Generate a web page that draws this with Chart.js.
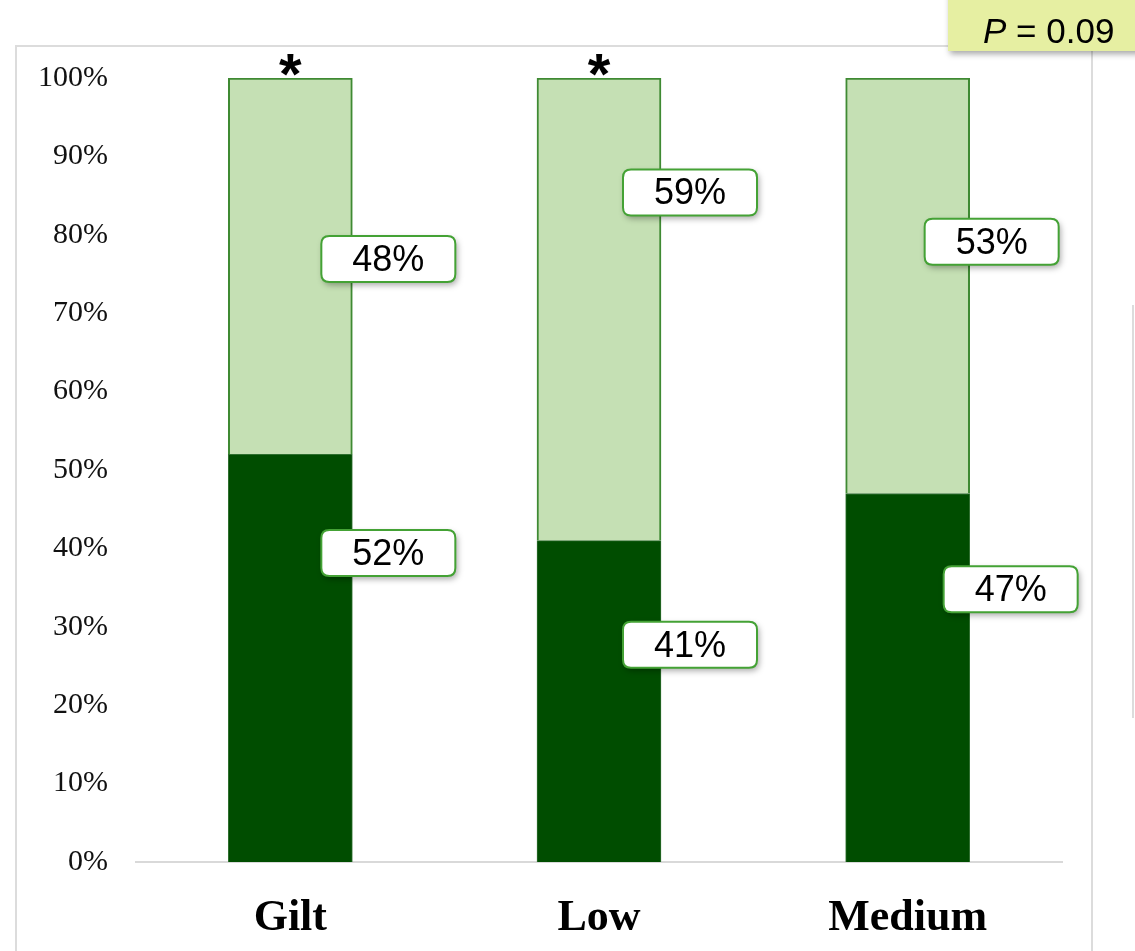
<!DOCTYPE html>
<html>
<head>
<meta charset="utf-8">
<script src="https://cdn.jsdelivr.net/npm/chart.js@4"></script>
<style>
  html, body { margin: 0; padding: 0; background: #fff; }
  #wrap { width: 1135px; height: 951px; }
</style>
</head>
<body>
<div id="wrap"><canvas id="chart" width="1135" height="951"></canvas></div>
<script>
document.addEventListener('DOMContentLoaded', () => {
    'use strict';

    // --- data ---
    const categories = ['Gilt', 'Low', 'Medium'];
    const lowerShare = [52, 41, 47];   // dark segment
    const upperShare = [48, 59, 53];   // light segment
    const starred = [true, true, false];
    const pValueText = '0.09';

    // where each callout sits on the y scale (percent) and its sideways nudge
    const lowerLabelAt = [39.4, 27.7, 34.8];
    const upperLabelAt = [76.9, 85.4, 79.1];
    const lowerLabelDx = [98, 91, 103];
    const upperLabelDx = [98, 91, 84];

    const DARK = '#004d00';
    const LIGHT = '#c5e0b4';
    const EDGE = '#3f8a33';

    function roundRect(ctx, x, y, w, h, r) {
        ctx.beginPath();
        ctx.moveTo(x + r, y);
        ctx.lineTo(x + w - r, y);
        ctx.quadraticCurveTo(x + w, y, x + w, y + r);
        ctx.lineTo(x + w, y + h - r);
        ctx.quadraticCurveTo(x + w, y + h, x + w - r, y + h);
        ctx.lineTo(x + r, y + h);
        ctx.quadraticCurveTo(x, y + h, x, y + h - r);
        ctx.lineTo(x, y + r);
        ctx.quadraticCurveTo(x, y, x + r, y);
        ctx.closePath();
    }

    function callout(ctx, cx, cy, text) {
        const w = 134, h = 46;
        ctx.save();
        roundRect(ctx, cx - w / 2, cy - h / 2, w, h, 8);
        ctx.shadowColor = 'rgba(0,0,0,0.35)';
        ctx.shadowBlur = 6;
        ctx.shadowOffsetX = 2;
        ctx.shadowOffsetY = 3;
        ctx.fillStyle = '#fff';
        ctx.fill();
        ctx.shadowColor = 'transparent';
        ctx.lineWidth = 2;
        ctx.strokeStyle = '#44a235';
        ctx.stroke();
        ctx.fillStyle = '#000';
        ctx.font = '36px "Liberation Sans", Arial, sans-serif';
        ctx.textAlign = 'center';
        ctx.textBaseline = 'middle';
        ctx.fillText(text, cx, cy + 2);
        ctx.restore();
    }

    // light frame behind the plot
    const framePlugin = {
        id: 'frame',
        beforeDraw(chart) {
            const ctx = chart.ctx;
            ctx.save();
            ctx.strokeStyle = '#dcdcdc';
            ctx.lineWidth = 2;
            ctx.beginPath();
            ctx.moveTo(16, 960);
            ctx.lineTo(16, 46);
            ctx.lineTo(1092, 46);
            ctx.lineTo(1092, 960);
            ctx.stroke();
            ctx.beginPath();
            ctx.moveTo(1133, 305);
            ctx.lineTo(1133, 718);
            ctx.stroke();
            ctx.restore();
        }
    };

    // value callouts, significance stars and the P box
    const annotatePlugin = {
        id: 'annotate',
        afterDraw(chart) {
            const ctx = chart.ctx;
            const xs = chart.scales.x, ys = chart.scales.y;
            categories.forEach((c, i) => {
                const x = xs.getPixelForValue(i);
                callout(ctx, x + upperLabelDx[i], ys.getPixelForValue(upperLabelAt[i]), upperShare[i] + '%');
                callout(ctx, x + lowerLabelDx[i], ys.getPixelForValue(lowerLabelAt[i]), lowerShare[i] + '%');
                if (starred[i]) {
                    ctx.save();
                    ctx.fillStyle = '#000';
                    ctx.font = 'bold 58px "Liberation Sans", Arial, sans-serif';
                    ctx.textAlign = 'center';
                    ctx.textBaseline = 'alphabetic';
                    ctx.fillText('*', x, ys.getPixelForValue(100) + 16);
                    ctx.restore();
                }
            });

            ctx.save();
            ctx.shadowColor = 'rgba(0,0,0,0.35)';
            ctx.shadowBlur = 6;
            ctx.shadowOffsetX = 2;
            ctx.shadowOffsetY = 3;
            ctx.fillStyle = '#e6efa2';
            ctx.fillRect(948, -10, 200, 61);
            ctx.shadowColor = 'transparent';
            ctx.fillStyle = '#000';
            ctx.textBaseline = 'alphabetic';
            ctx.textAlign = 'left';
            ctx.font = 'italic 35px "Liberation Sans", Arial, sans-serif';
            ctx.fillText('P', 983, 43);
            const pw = ctx.measureText('P').width;
            ctx.font = '35px "Liberation Sans", Arial, sans-serif';
            ctx.fillText(' = ' + pValueText, 983 + pw, 43);
            ctx.restore();
        }
    };

    const chartConfig = {
        type: 'bar',
        data: {
            labels: categories,
            datasets: [
                {
                    label: 'lower',
                    data: lowerShare,
                    backgroundColor: DARK,
                    borderColor: '#2f6f2f',
                    borderWidth: 1,
                    barThickness: 124
                },
                {
                    label: 'upper',
                    data: upperShare,
                    backgroundColor: LIGHT,
                    borderColor: EDGE,
                    borderWidth: 2,
                    borderSkipped: 'start',
                    barThickness: 124
                }
            ]
        },
        options: {
            responsive: false,
            animation: false,
            layout: { padding: { left: 0, top: 78, right: 73, bottom: 0 } },
            plugins: { legend: { display: false }, tooltip: { enabled: false } },
            scales: {
                x: {
                    stacked: true,
                    grid: { display: false, drawTicks: false },
                    border: { display: true, color: '#d9d9d9', width: 2 },
                    ticks: {
                        padding: 30,
                        color: '#000',
                        font: { family: '"Liberation Serif", "Times New Roman", serif', size: 44, weight: 'bold' }
                    },
                    afterFit(scale) { scale.height = 89; }
                },
                y: {
                    stacked: true,
                    min: 0,
                    max: 100,
                    grid: { display: false, drawTicks: false },
                    border: { display: false },
                    ticks: {
                        stepSize: 10,
                        padding: 28,
                        color: '#111',
                        font: { family: '"Liberation Serif", "Times New Roman", serif', size: 30 },
                        callback: v => v + '%'
                    },
                    afterFit(scale) { scale.width = 136; }
                }
            }
        },
        plugins: [framePlugin, annotatePlugin]
    };

    new Chart(document.getElementById('chart').getContext('2d'), chartConfig);
});
</script>
</body>
</html>
